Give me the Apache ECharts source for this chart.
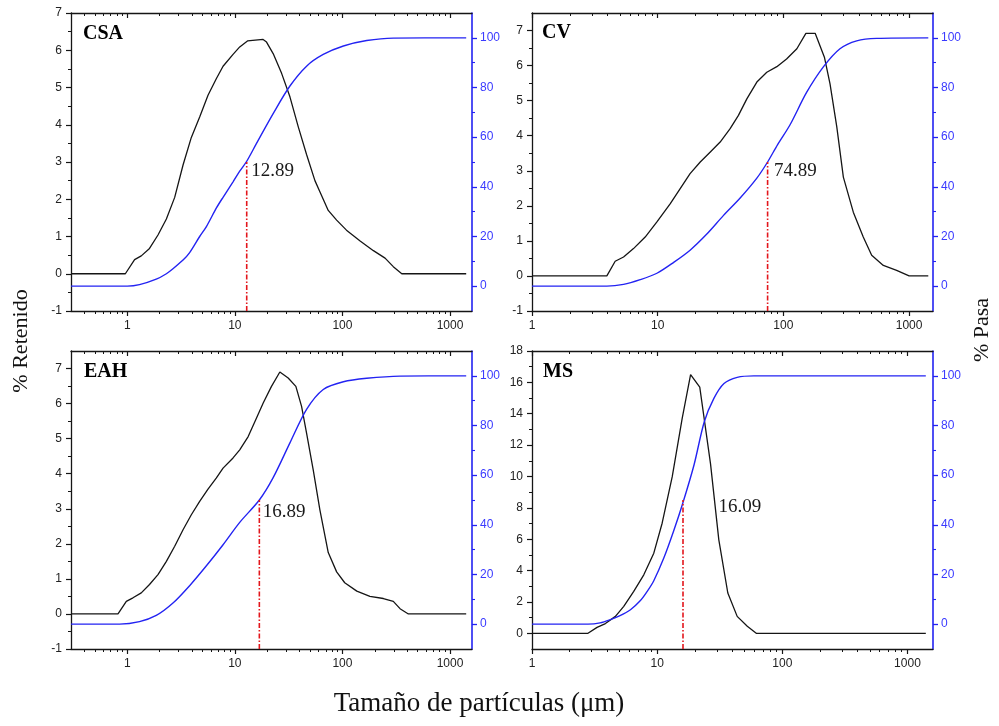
<!DOCTYPE html>
<html><head><meta charset="utf-8">
<script src="https://cdn.jsdelivr.net/npm/echarts@6/dist/echarts.min.js"></script>
<style>html,body{margin:0;padding:0;background:#fff}#c{width:999px;height:726px}</style>
</head><body><div id="c"></div>
<script>
// ---------- data ----------
const panelNames = ['CSA', 'CV', 'EAH', 'MS'];
const d50Values = [12.89, 74.89, 16.89, 16.09];
const d50Pasa = 50;

const csaSize = [0.3, 0.96, 1.17, 1.35, 1.61, 1.93, 2.31, 2.76, 3.3, 3.94, 4.71, 5.63, 6.74, 7.77, 9.62, 11.1, 13.1, 18.3, 19.7, 22.7, 27.2, 32.5, 38.8, 46.4, 55.5, 61.7, 73.8, 88.3, 109, 146, 194, 249, 297, 356, 1413];
const csaRetenido = [0, 0, 0.38, 0.48, 0.68, 1.04, 1.47, 2.05, 2.92, 3.66, 4.21, 4.79, 5.24, 5.57, 5.89, 6.09, 6.25, 6.29, 6.22, 5.91, 5.38, 4.75, 3.95, 3.2, 2.5, 2.2, 1.7, 1.44, 1.17, 0.88, 0.62, 0.42, 0.19, 0, 0];
const csaPasaSize = [0.3, 1.0, 1.3, 1.86, 2.31, 2.66, 3.3, 3.8, 4.71, 5.44, 6.74, 7.77, 9.62, 11.1, 12.89, 15.9, 22.7, 32.5, 46.4, 66.3, 102, 168, 297, 1413];
const csaPasa = [0, 0, 0.6, 2.8, 5.0, 7.0, 10.5, 13.5, 20, 24, 31.5, 35.8, 42, 46.3, 50.3, 57.5, 69.5, 80.6, 88.6, 93.3, 96.7, 98.9, 99.9, 100];

const cvSize = [1, 3.94, 4.59, 5.35, 6.42, 7.95, 9.86, 12.6, 15.1, 18.1, 21.8, 26.1, 31.4, 37.7, 43.9, 51.2, 61.5, 73.8, 88.7, 106, 128, 151, 179, 212, 235, 266, 300, 360, 432, 504, 624, 796, 1000, 1422];
const cvRetenido = [0, 0, 0.42, 0.54, 0.78, 1.11, 1.54, 2.06, 2.49, 2.92, 3.25, 3.53, 3.82, 4.2, 4.58, 5.05, 5.53, 5.81, 5.97, 6.19, 6.48, 6.92, 6.92, 6.24, 5.48, 4.25, 2.82, 1.82, 1.11, 0.59, 0.30, 0.16, 0, 0];
const cvPasaSize = [1, 3.94, 5.35, 7.26, 9.86, 13.4, 18.1, 24.6, 33.4, 45.3, 61.5, 74.89, 90, 113, 153, 208, 282, 383, 552, 1422];
const cvPasa = [0, 0, 0.7, 2.6, 5.2, 9.6, 14.5, 21.0, 28.5, 35.5, 43.5, 50, 57, 65, 78, 88.3, 95.6, 98.8, 99.8, 100];

const eahSize = [0.3, 0.82, 0.98, 1.13, 1.35, 1.61, 1.93, 2.31, 2.76, 3.3, 3.94, 4.71, 5.63, 6.74, 7.77, 9.62, 11.1, 13.3, 15.9, 18.3, 21.9, 26.2, 31.3, 36.9, 41.7, 46.4, 53.5, 61.7, 73.8, 88.3, 105, 136, 180, 240, 297, 343, 410, 1413];
const eahRetenido = [0, 0, 0.36, 0.46, 0.60, 0.84, 1.12, 1.50, 1.93, 2.40, 2.83, 3.21, 3.56, 3.88, 4.16, 4.45, 4.68, 5.06, 5.59, 6.01, 6.49, 6.90, 6.73, 6.49, 5.92, 5.16, 4.11, 2.97, 1.75, 1.2, 0.89, 0.65, 0.50, 0.44, 0.36, 0.15, 0, 0];
const eahPasaSize = [0.3, 0.85, 1.3, 1.86, 2.66, 3.8, 5.44, 7.77, 11.1, 16.89, 22.7, 32.5, 46.4, 66.3, 102, 168, 343, 1413];
const eahPasa = [0, 0, 1.0, 3.5, 8.5, 15.5, 23.5, 32, 41, 50, 59, 73, 86.5, 94.5, 97.6, 99.0, 99.9, 100];

const msSize = [1, 2.8, 3.31, 3.86, 4.64, 5.41, 6.5, 7.82, 9.4, 10.96, 13.2, 15.85, 18.5, 21.9, 26.7, 31.1, 36.7, 43.6, 52.5, 61.9, 1402];
const msRetenido = [0, 0, 0.38, 0.62, 1.08, 1.72, 2.67, 3.73, 5.11, 7.02, 9.99, 13.7, 16.5, 15.7, 10.8, 5.96, 2.57, 1.08, 0.45, 0, 0];
const msPasaSize = [1, 2.8, 3.5, 4.23, 5.0, 6.12, 7.35, 8.33, 9.4, 11.3, 13.5, 16.09, 19.7, 23.8, 28.4, 34.2, 43.6, 59.3, 1402];
const msPasa = [0, 0, 0.5, 1.8, 3.3, 5.8, 9.5, 13.2, 17.5, 26.6, 37.3, 49, 64.1, 81.5, 90.9, 96.9, 99.4, 100, 100];

// tick labels
const xMajorTicks = [1, 10, 100, 1000];
const xMinorTicks = [0.4, 0.5, 0.6, 0.7, 0.8, 0.9, 2, 3, 4, 5, 6, 7, 8, 9, 20, 30, 40, 50, 60, 70, 80, 90, 200, 300, 400, 500, 600, 700, 800, 900];
const leftMajorA = [-1, 0, 1, 2, 3, 4, 5, 6, 7];
const leftMinorA = [-0.5, 0.5, 1.5, 2.5, 3.5, 4.5, 5.5, 6.5];
const leftMajorMS = [0, 2, 4, 6, 8, 10, 12, 14, 16, 18];
const leftMinorMS = [1, 3, 5, 7, 9, 11, 13, 15, 17];
const rightMajor = [0, 20, 40, 60, 80, 100];
const rightMinor = [10, 30, 50, 70, 90];

const xTitle = 'Tamaño de partículas (μm)';
const yLeftTitle = '% Retenido';
const yRightTitle = '% Pasa';

// ---------- layout ----------
const panels = [
  {name: panelNames[0], size: csaSize, ret: csaRetenido, pSize: csaPasaSize, pasa: csaPasa, d50: d50Values[0],
   grid: {left: 71, top: 13, width: 401, height: 298}, xMin: 0.3, xMax: 1600, yMin: -1, yMax: 7,
   lMaj: leftMajorA, lMin: leftMinorA, title: [83, 34], lab: [4, 9]},
  {name: panelNames[1], size: cvSize, ret: cvRetenido, pSize: cvPasaSize, pasa: cvPasa, d50: d50Values[1],
   grid: {left: 532, top: 13, width: 401, height: 298}, xMin: 1, xMax: 1550, yMin: -1, yMax: 7.5,
   lMaj: leftMajorA, lMin: leftMinorA, title: [542, 33], lab: [6, 9]},
  {name: panelNames[2], size: eahSize, ret: eahRetenido, pSize: eahPasaSize, pasa: eahPasa, d50: d50Values[2],
   grid: {left: 71, top: 351, width: 401, height: 298}, xMin: 0.3, xMax: 1600, yMin: -1, yMax: 7.5,
   lMaj: leftMajorA, lMin: leftMinorA, title: [84, 372], lab: [3, 12]},
  {name: panelNames[3], size: msSize, ret: msRetenido, pSize: msPasaSize, pasa: msPasa, d50: d50Values[3],
   grid: {left: 532, top: 351, width: 401, height: 298}, xMin: 1, xMax: 1600, yMin: -1, yMax: 18,
   lMaj: leftMajorMS, lMin: leftMinorMS, title: [543, 372], lab: [35, 7]}
];

const fontSans = '"Liberation Sans", Arial, sans-serif';
const fontSerif = '"Liberation Serif", "Times New Roman", serif';
const black = '#151515';
const blue = '#2323f2';
const blueLabel = '#3a3aff';
const red = '#e3161c';
const rightMin = -10, rightMax = 110;

const grids = [], xAxes = [], yAxes = [], series = [], graphics = [];
const zip = (a, b) => a.map((v, i) => [v, b[i]]);

panels.forEach((p, g) => {
  grids.push(Object.assign({}, p.grid));
  const xb = () => ({type: 'log', logBase: 10, gridIndex: g, min: p.xMin, max: p.xMax,
    splitLine: {show: false}, minorTick: {show: false}, axisPointer: {show: false}});
  const lineBlack = {onZero: false, lineStyle: {color: black, width: 1.3}};
  xAxes.push(Object.assign(xb(), {position: 'bottom', axisLine: lineBlack,
    axisTick: {customValues: xMajorTicks, length: 5, inside: false, lineStyle: {color: black, width: 1.2}},
    axisLabel: {customValues: xMajorTicks, formatter: v => String(Math.round(v)), margin: 9, fontSize: 12, color: '#222', fontFamily: fontSans}}));
  xAxes.push(Object.assign(xb(), {position: 'bottom', axisLine: {show: false, onZero: false},
    axisTick: {customValues: xMinorTicks, length: 3, inside: false, lineStyle: {color: black, width: 1}},
    axisLabel: {show: false}}));
  xAxes.push(Object.assign(xb(), {position: 'top', axisLine: lineBlack,
    axisTick: {customValues: xMajorTicks, length: 5, inside: true, lineStyle: {color: black, width: 1.2}},
    axisLabel: {show: false}}));
  xAxes.push(Object.assign(xb(), {position: 'top', axisLine: {show: false, onZero: false},
    axisTick: {customValues: xMinorTicks, length: 3, inside: true, lineStyle: {color: black, width: 1}},
    axisLabel: {show: false}}));

  const yl = () => ({type: 'value', gridIndex: g, min: p.yMin, max: p.yMax, position: 'left',
    splitLine: {show: false}, axisPointer: {show: false}});
  yAxes.push(Object.assign(yl(), {axisLine: {show: true, onZero: false, lineStyle: {color: black, width: 1.3}},
    axisTick: {customValues: p.lMaj, length: 5, lineStyle: {color: black, width: 1.2}},
    axisLabel: {customValues: p.lMaj, margin: 9, fontSize: 12, color: '#222', fontFamily: fontSans}}));
  yAxes.push(Object.assign(yl(), {axisLine: {show: false, onZero: false},
    axisTick: {customValues: p.lMin, length: 3, lineStyle: {color: black, width: 1}},
    axisLabel: {show: false}}));
  const yr = () => ({type: 'value', gridIndex: g, min: rightMin, max: rightMax, position: 'right',
    splitLine: {show: false}, axisPointer: {show: false}});
  yAxes.push(Object.assign(yr(), {axisLine: {show: true, onZero: false, lineStyle: {color: blue, width: 1.6}},
    axisTick: {customValues: rightMajor, length: 5, lineStyle: {color: blue, width: 1.3}},
    axisLabel: {customValues: rightMajor, margin: 8, fontSize: 12, color: blueLabel, fontFamily: fontSans}}));
  yAxes.push(Object.assign(yr(), {axisLine: {show: false, onZero: false},
    axisTick: {customValues: rightMinor, length: 3, lineStyle: {color: blue, width: 1.1}},
    axisLabel: {show: false}}));

  series.push({type: 'line', xAxisIndex: 4 * g, yAxisIndex: 4 * g, data: zip(p.size, p.ret),
    showSymbol: false, smooth: false, lineStyle: {color: black, width: 1.3}, z: 3});
  series.push({type: 'line', xAxisIndex: 4 * g, yAxisIndex: 4 * g + 2, data: zip(p.pSize, p.pasa),
    showSymbol: false, smooth: 0.3, lineStyle: {color: blue, width: 1.4}, z: 4});
  series.push({type: 'line', xAxisIndex: 4 * g, yAxisIndex: 4 * g + 2,
    data: [[p.d50, rightMin], {value: [p.d50, d50Pasa],
      label: {show: true, position: 'right', distance: p.lab[0], offset: [0, p.lab[1]],
        formatter: p.d50.toFixed(2), fontFamily: fontSerif, fontSize: 19, color: '#1a1a1a', opacity: 1}}],
    showSymbol: true, showAllSymbol: true, symbol: 'circle', symbolSize: 1,
    itemStyle: {color: 'rgba(0,0,0,0)', borderWidth: 0}, silent: true,
    lineStyle: {color: red, width: 1.6, type: [5, 2, 1.5, 2]}, z: 5});

  graphics.push({type: 'text', x: p.title[0], y: p.title[1],
    style: {text: p.name, font: 'bold 20px ' + fontSerif, fill: '#000', align: 'left', verticalAlign: 'middle'}});
});

graphics.push({type: 'text', x: 479, y: 704,
  style: {text: xTitle, font: '27px ' + fontSerif, fill: '#111', align: 'center', verticalAlign: 'middle'}});
graphics.push({type: 'text', x: 21, y: 341, rotation: Math.PI / 2,
  style: {text: yLeftTitle, font: '22px ' + fontSerif, fill: '#111', align: 'center', verticalAlign: 'middle'}});
graphics.push({type: 'text', x: 982, y: 330, rotation: Math.PI / 2,
  style: {text: yRightTitle, font: '22px ' + fontSerif, fill: '#111', align: 'center', verticalAlign: 'middle'}});

const chart = echarts.init(document.getElementById('c'), null, {renderer: 'canvas'});
chart.setOption({
  backgroundColor: '#fff',
  animation: false,
  grid: grids,
  xAxis: xAxes,
  yAxis: yAxes,
  series: series,
  graphic: graphics
});
</script></body></html>
